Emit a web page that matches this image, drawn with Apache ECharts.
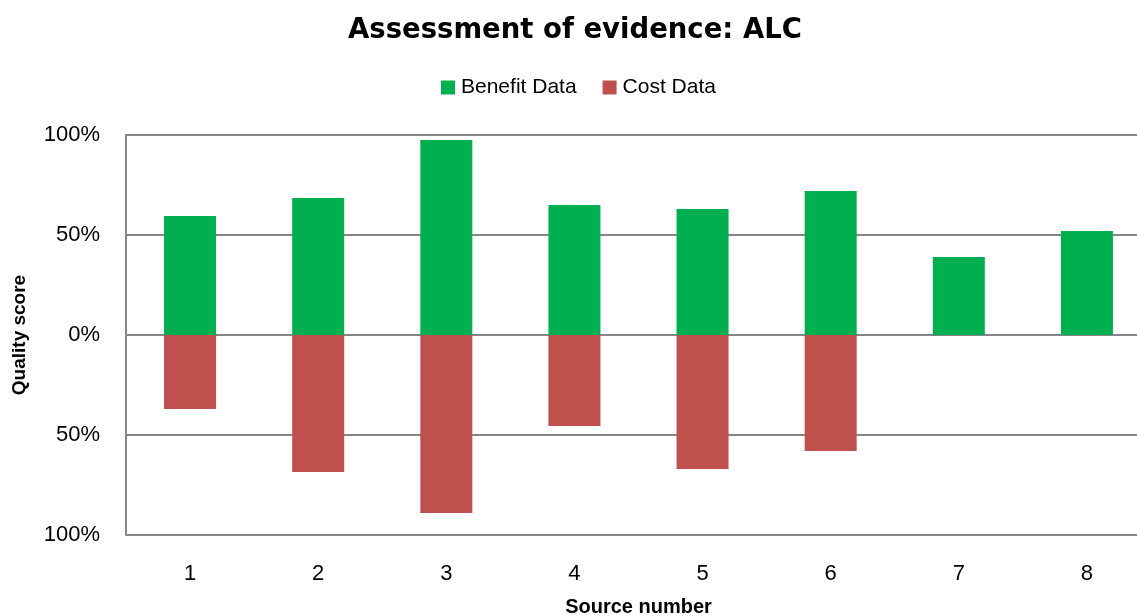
<!DOCTYPE html>
<html>
<head>
<meta charset="utf-8">
<title>Assessment of evidence: ALC</title>
<script src="https://cdn.jsdelivr.net/npm/echarts@6/dist/echarts.min.js"></script>
<style>
  html, body { margin: 0; padding: 0; background: #fff; }
  #chart { width: 1137px; height: 616px; }
</style>
</head>
<body>
<div id="chart"></div>
<script>
// data (percent)
const sources = ["1", "2", "3", "4", "5", "6", "7", "8"];
const benefitData = [59.5, 68.5, 97.5, 65, 63, 72, 39, 52];
const costData = [-37, -68.5, -89, -45.5, -67, -58, 0, 0];
const yTicks = { min: -100, max: 100, step: 50 };

const chart = echarts.init(document.getElementById("chart"), null, { renderer: "canvas" });
const font = "Liberation Sans";
const gridColor = "#868686";

chart.setOption({
  animation: false,
  title: {
    text: "Assessment of evidence: ALC",
    left: 343,
    top: 12,
    textStyle: {
      fontFamily: "DejaVu Sans",
      fontWeight: "bold",
      fontSize: 27.5,
      color: "#000"
    }
  },
  legend: {
    data: ["Benefit Data", "Cost Data"],
    left: 436,
    top: 72,
    itemWidth: 14,
    itemHeight: 14,
    itemGap: 26,
    icon: "rect",
    textStyle: { fontFamily: font, fontSize: 21, color: "#000", padding: [0, 0, 0, 1] }
  },
  grid: {
    left: 126,
    right: -14,
    top: 135,
    bottom: 81,
    outerBoundsMode: "none",
    containLabel: false
  },
  xAxis: {
    type: "category",
    data: sources,
    name: "Source number",
    nameLocation: "middle",
    nameGap: 62,
    nameTextStyle: { fontFamily: font, fontSize: 20, fontWeight: "bold", color: "#000" },
    axisLine: { show: false },
    axisTick: { show: false },
    axisLabel: { fontFamily: font, fontSize: 22, color: "#000", margin: 28 }
  },
  yAxis: {
    type: "value",
    min: yTicks.min,
    max: yTicks.max,
    interval: yTicks.step,
    name: "Quality score",
    nameLocation: "middle",
    nameGap: 97,
    nameTextStyle: { fontFamily: font, fontSize: 19, fontWeight: "bold", color: "#000" },
    axisLine: { show: true, lineStyle: { color: gridColor, width: 2 } },
    axisTick: { show: false },
    axisLabel: {
      fontFamily: font,
      fontSize: 22,
      color: "#000",
      margin: 26,
      formatter: v => Math.abs(v) + "%"
    },
    splitLine: { show: true, lineStyle: { color: gridColor, width: 2 } }
  },
  series: [
    {
      name: "Benefit Data",
      type: "bar",
      stack: "score",
      barWidth: 52,
      itemStyle: { color: "#00B050" },
      data: benefitData
    },
    {
      name: "Cost Data",
      type: "bar",
      stack: "score",
      barWidth: 52,
      itemStyle: { color: "#C0504D" },
      data: costData
    }
  ]
});
</script>
</body>
</html>
